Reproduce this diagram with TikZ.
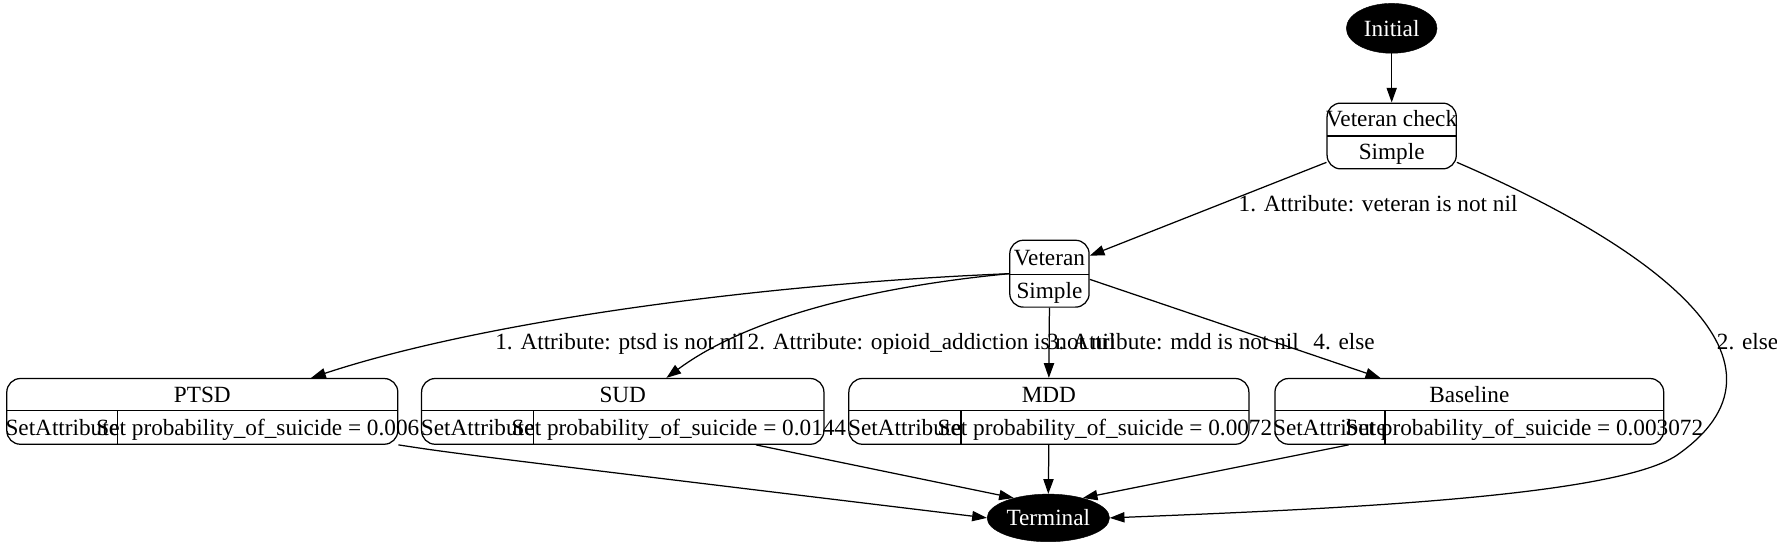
\documentclass[tikz,border=0pt]{standalone}
\usepackage{fontspec}
\setmainfont{Liberation Serif}
\usetikzlibrary{arrows.meta,shapes.geometric,calc}
\tikzset{
  edge/.style={line width=1.1pt,-{Triangle[length=13pt,width=9pt]}},
  rec/.style={draw,line width=1.1pt,rounded corners=12pt,rectangle,inner sep=0pt},
  divline/.style={line width=1.1pt},
  txt/.style={inner sep=0pt,anchor=base,font=\fontsize{20.5}{24}\selectfont},
  blob/.style={ellipse,fill=black,draw=black,inner sep=0pt,text=white,font=\fontsize{20.5}{24}\selectfont},
}
\newcommand{\recrow}[6]{%
  \node[rec,minimum width={#4pt-#2pt},minimum height=58pt] (#1) at ({(#2+#4)/2},363) {};
  \draw[divline] (#2,362) -- (#4,362);
  \draw[divline] (#3,362) -- (#3,392);
  \node[txt] (#1-t) at ({(#2+#4)/2},355) {#5};
  \node[txt] (#1-a) at ({(#2+#3)/2},384) {SetAttribute};
  \node[txt] (#1-v) at ({(#3+#4)/2},384) {#6};
}
\begin{document}
\begin{tikzpicture}[x=1pt,y=-1pt]
\useasboundingbox[fill=white] (0,0) rectangle (1568,484);
% initial / terminal
\node[blob,minimum width=80pt,minimum height=44pt] (init) at (1228,25) {Initial};
\node[blob,minimum width=108pt,minimum height=42pt] (term) at (925,457) {Terminal};
% veteran check
\node[rec,minimum width=114pt,minimum height=58pt] (vc) at (1228,120) {};
\draw[divline] (1171,120) -- (1285,120);
\node[txt] (vc-t) at (1228,112) {Veteran check};
\node[txt] (vc-s) at (1228,141) {Simple};
% veteran
\node[rec,minimum width=70pt,minimum height=59pt] (vet) at (926,241.5) {};
\draw[divline] (891,242) -- (961,242);
\node[txt] (vet-t) at (926,234) {Veteran};
\node[txt] (vet-s) at (926,263) {Simple};
% records
\recrow{ptsd}{6}{104}{351}{PTSD}{Set probability\_of\_suicide = 0.006}
\recrow{sud}{372}{471}{727}{SUD}{Set probability\_of\_suicide = 0.0144}
\recrow{mdd}{749}{848}{1102}{MDD}{Set probability\_of\_suicide = 0.0072}
\recrow{base}{1125}{1222}{1468}{Baseline}{Set probability\_of\_suicide = 0.003072}
% edges
\draw[edge] (init) -- (vc);
\draw[edge] (vc.202) -- (vet.24);
\draw[edge] (vc.-22) .. controls (1445,212) and (1600,315) .. (1482,400)
   .. controls (1430,440) and (1150,450) .. (term.east);
\draw[edge] (vet.west) .. controls (680,250) and (430,282) .. ($(ptsd.north)+(96,0)$);
\draw[edge] (vet.west) .. controls (770,253) and (660,280) .. ($(sud.north)+(38.5,0)$);
\draw[edge] (vet.south) -- (mdd.north);
\draw[edge] (vet.-8) -- ($(base.north)+(-78.5,0)$);
\draw[edge] (ptsd.south east) .. controls (400,400) .. (term.west);
\draw[edge] ($(sud.south)+(117.5,0)$) -- (term.150);
\draw[edge] (mdd.south) -- (term.north);
\draw[edge] ($(base.south)+(-106.5,0)$) -- (term.30);
% labels
\node[txt] (l1) at (1216,187) {1. Attribute: veteran is not nil};
\node[txt] (l2) at (1542,308) {2. else};
\node[txt] (l3) at (547,308) {1. Attribute: ptsd is not nil};
\node[txt] (l4) at (822,308) {2. Attribute: opioid\_addiction is not nil};
\node[txt] (l5) at (1035,308) {3. Attribute: mdd is not nil};
\node[txt] (l6) at (1186,308) {4. else};
\end{tikzpicture}
\end{document}
